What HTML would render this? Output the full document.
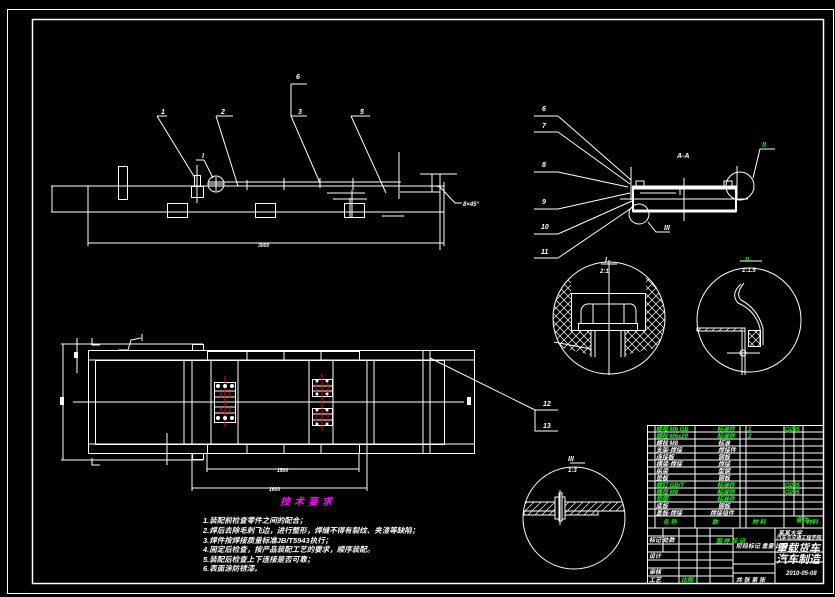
<!DOCTYPE html>
<html><head><meta charset="utf-8"><style>
html,body{margin:0;padding:0;background:#000;}
svg{display:block}
text{font-family:"Liberation Sans","Noto Sans CJK SC",sans-serif;font-weight:bold;font-style:italic}
</style></head><body>
<svg width="835" height="597" viewBox="0 0 835 597" xmlns="http://www.w3.org/2000/svg">
<rect width="835" height="597" fill="#000"/>
<g fill="none" stroke="#fff" stroke-width="1">
<!-- frames -->
<rect x="7.5" y="9.5" width="826" height="584"/>
<rect x="32.5" y="19.5" width="791" height="564" stroke-width="1.5"/>

<!-- FRONT VIEW -->
<line x1="51" y1="186" x2="444" y2="186"/>
<line x1="208" y1="182" x2="401" y2="182"/>
<line x1="51" y1="212" x2="444" y2="212"/>
<line x1="88" y1="186" x2="88" y2="246"/>
<line x1="444" y1="182" x2="444" y2="246"/>
<line x1="88" y1="243" x2="444" y2="243"/>
<line x1="52" y1="186" x2="52" y2="212"/>
<line x1="88" y1="212" x2="100" y2="212"/>
<rect x="118.5" y="166.5" width="9" height="33"/>
<rect x="167.5" y="203.5" width="20" height="14"/>
<rect x="255.5" y="203.5" width="20" height="14"/>
<rect x="344.5" y="203.5" width="20" height="14"/>
<line x1="350" y1="198" x2="350" y2="217"/>
<rect x="191.5" y="186.5" width="12" height="11"/>
<rect x="194.5" y="175.5" width="6" height="11"/>
<line x1="197" y1="165" x2="197" y2="203"/>
<circle cx="216" cy="184" r="8"/>
<line x1="208" y1="184" x2="224" y2="184"/><line x1="216" y1="177" x2="216" y2="191"/>
<line x1="247" y1="180" x2="247" y2="190"/><line x1="284" y1="178" x2="284" y2="190"/><line x1="320" y1="178" x2="320" y2="188"/><line x1="353" y1="178" x2="353" y2="190"/>
<line x1="157" y1="116" x2="167" y2="116"/><line x1="157" y1="116" x2="195" y2="178"/>
<line x1="196" y1="160" x2="204" y2="160"/><line x1="204" y1="160" x2="213" y2="178"/>
<line x1="216" y1="116" x2="233" y2="116"/><line x1="216" y1="116" x2="238" y2="186"/>
<line x1="291" y1="84" x2="307" y2="84"/><line x1="291" y1="84" x2="291" y2="116"/>
<line x1="291" y1="116" x2="307" y2="116"/><line x1="291" y1="116" x2="320" y2="183"/>
<line x1="351" y1="116" x2="370" y2="116"/><line x1="351" y1="116" x2="386" y2="193"/>
<line x1="399" y1="152" x2="399" y2="199"/>
<line x1="327" y1="193" x2="365" y2="193"/><line x1="333" y1="199" x2="367" y2="199"/>
<line x1="352" y1="190" x2="352" y2="217"/>
<line x1="420" y1="174" x2="457" y2="174"/><line x1="432" y1="174" x2="432" y2="192"/>
<line x1="440" y1="174" x2="440" y2="250"/>
<line x1="400" y1="192" x2="440" y2="192"/>
<polyline points="436,186 440,187 455,203 462,203"/>
<line x1="382" y1="216" x2="404" y2="216"/>

<!-- PLAN VIEW -->
<rect x="88.5" y="350.5" width="386" height="103"/>
<line x1="88" y1="360" x2="475" y2="360"/>
<line x1="88" y1="444" x2="475" y2="444"/>
<rect x="95.5" y="360.5" width="349" height="84"/>
<g>
<line x1="184" y1="360" x2="184" y2="444"/><line x1="192" y1="360" x2="192" y2="444"/>
<line x1="211" y1="360" x2="211" y2="444"/><line x1="238" y1="360" x2="238" y2="444"/>
<line x1="309" y1="360" x2="309" y2="444"/><line x1="333" y1="360" x2="333" y2="444"/>
<line x1="367" y1="360" x2="367" y2="444"/><line x1="374" y1="360" x2="374" y2="444"/>
<line x1="423" y1="350" x2="423" y2="453"/><line x1="430" y1="350" x2="430" y2="453"/>
</g>
<rect x="207.5" y="351.5" width="152" height="9"/>
<rect x="207.5" y="444.5" width="152" height="9"/>
<line x1="247" y1="351" x2="247" y2="360"/><line x1="284" y1="351" x2="284" y2="360"/><line x1="321" y1="351" x2="321" y2="360"/>
<line x1="247" y1="445" x2="247" y2="453"/><line x1="284" y1="445" x2="284" y2="453"/><line x1="321" y1="445" x2="321" y2="453"/>
<line x1="73" y1="402" x2="464" y2="402"/>
<line x1="61" y1="344" x2="203" y2="344"/><line x1="61" y1="460" x2="203" y2="460"/>
<line x1="63" y1="344" x2="63" y2="460"/>
<line x1="77" y1="338" x2="77" y2="373"/>
<line x1="167" y1="433" x2="167" y2="465"/>
<polyline points="118,350 128,350 131,340 141,338"/>
<line x1="142" y1="334" x2="142" y2="341"/>
<polyline points="92,338 92,345 100,345"/><polyline points="92,458 92,465 100,465"/>
<rect x="192.5" y="344.5" width="11" height="6"/><rect x="192.5" y="453.5" width="11" height="6"/>
<rect x="214.5" y="382.5" width="21" height="40"/>
<line x1="214" y1="391" x2="236" y2="391"/><line x1="214" y1="397" x2="236" y2="397"/><line x1="214" y1="407" x2="236" y2="407"/><line x1="214" y1="413" x2="236" y2="413"/>
<rect x="312.5" y="379.5" width="20" height="17"/><rect x="312.5" y="408.5" width="20" height="17"/>
<line x1="312" y1="386" x2="332" y2="386"/><line x1="312" y1="391" x2="332" y2="391"/><line x1="312" y1="414" x2="332" y2="414"/><line x1="312" y1="420" x2="332" y2="420"/>
<line x1="207" y1="453" x2="207" y2="472"/><line x1="359" y1="453" x2="359" y2="472"/>
<line x1="207" y1="469" x2="359" y2="469"/>
<line x1="192" y1="453" x2="192" y2="491"/><line x1="367" y1="444" x2="367" y2="491"/>
<line x1="192" y1="488" x2="367" y2="488"/>
<line x1="430" y1="358" x2="535" y2="410"/>
<polyline points="558,410 535,410 535,431 558,431"/>
</g>
<!-- red centerlines -->
<g stroke="#f00" stroke-width="1">
<line x1="225" y1="376" x2="225" y2="427"/><line x1="221" y1="392" x2="221" y2="398"/><line x1="230" y1="392" x2="230" y2="398"/><line x1="221" y1="407" x2="221" y2="413"/><line x1="230" y1="407" x2="230" y2="413"/>
<line x1="322" y1="374" x2="322" y2="431"/><line x1="316" y1="383" x2="316" y2="393"/><line x1="328" y1="383" x2="328" y2="393"/><line x1="316" y1="412" x2="316" y2="422"/><line x1="328" y1="412" x2="328" y2="422"/>
</g>
<g fill="#fff">
<circle cx="218" cy="386" r="2"/><circle cx="225" cy="386" r="2"/><circle cx="232" cy="386" r="2"/>
<circle cx="218" cy="418" r="2"/><circle cx="225" cy="418" r="2"/><circle cx="232" cy="418" r="2"/>
<circle cx="317" cy="381" r="1.5"/><circle cx="327" cy="381" r="1.5"/><circle cx="317" cy="394" r="1.5"/><circle cx="327" cy="394" r="1.5"/>
<circle cx="317" cy="410" r="1.5"/><circle cx="327" cy="410" r="1.5"/><circle cx="317" cy="424" r="1.5"/><circle cx="327" cy="424" r="1.5"/>
<rect x="60" y="397" width="4" height="8"/><rect x="467" y="397" width="4" height="8"/>
<rect x="74" y="352" width="4" height="6"/>
</g>

<!-- SECTION A-A -->
<g fill="none" stroke="#fff">
<line x1="534" y1="116" x2="558" y2="116"/><line x1="558" y1="116" x2="631" y2="180"/>
<line x1="534" y1="132" x2="558" y2="132"/><line x1="558" y1="132" x2="630" y2="184"/>
<line x1="534" y1="172" x2="558" y2="172"/><line x1="558" y1="172" x2="628" y2="187"/>
<line x1="534" y1="209" x2="558" y2="209"/><line x1="558" y1="209" x2="630" y2="193"/>
<line x1="534" y1="234" x2="558" y2="234"/><line x1="558" y1="234" x2="632" y2="201"/>
<line x1="534" y1="258" x2="558" y2="258"/><line x1="558" y1="258" x2="633" y2="207"/>
<rect x="633" y="186" width="103" height="3" fill="#fff"/>
<rect x="633" y="210" width="103" height="2" fill="#fff"/>
<line x1="633" y1="186" x2="633" y2="212" stroke-width="2"/>
<line x1="736" y1="186" x2="736" y2="212" stroke-width="2"/>
<line x1="631" y1="167" x2="631" y2="200"/><line x1="737" y1="166" x2="737" y2="198"/>
<line x1="684" y1="178" x2="684" y2="221"/>
<line x1="620" y1="199" x2="748" y2="199"/>
<line x1="640" y1="193" x2="676" y2="193"/>
<circle cx="740" cy="186" r="14"/>
<circle cx="639" cy="214" r="10"/>
<polyline points="753,178 760,149 775,149"/>
<polyline points="648,222 656,232 670,232"/>
<line x1="680" y1="189" x2="680" y2="195"/>
<rect x="636" y="181" width="8" height="5"/><rect x="724" y="181" width="8" height="5"/>
</g>

<!-- Detail I -->
<defs>
<pattern id="xh" width="8" height="8" patternUnits="userSpaceOnUse"><path d="M0 0L8 8M8 0L0 8" stroke="#fff" stroke-width="0.7"/></pattern>
<pattern id="dh" width="7" height="7" patternUnits="userSpaceOnUse"><path d="M0 7L7 0" stroke="#fff" stroke-width="0.7"/></pattern>
<clipPath id="c1"><circle cx="609" cy="318" r="56"/></clipPath>
<clipPath id="c3"><circle cx="574" cy="518" r="51"/></clipPath>
</defs>
<g clip-path="url(#c1)">
<path d="M550 275 L571 275 L571 330 L591 330 L591 355 L550 345 Z" fill="url(#xh)"/>
<path d="M646 275 L668 275 L668 345 L625 355 L625 330 L646 330 Z" fill="url(#xh)"/>
</g>
<g fill="none" stroke="#fff">
<circle cx="609" cy="318" r="56"/>
<line x1="609" y1="260" x2="609" y2="375"/>
<rect x="571.5" y="293.5" width="74" height="37"/>
<path d="M581 323 L581 310 Q583 303 591 304 L628 304 Q635 303 636 310 L636 323"/>
<line x1="593" y1="304" x2="593" y2="323"/><line x1="624" y1="304" x2="624" y2="323"/>
<rect x="578.5" y="323.5" width="59" height="7"/>
<line x1="591" y1="330" x2="591" y2="357"/><line x1="595" y1="330" x2="595" y2="357"/>
<line x1="621" y1="330" x2="621" y2="357"/><line x1="625" y1="330" x2="625" y2="357"/>
<line x1="554" y1="342" x2="591" y2="349"/>
<line x1="601" y1="264" x2="617" y2="264"/>
<!-- Detail II -->
<circle cx="749" cy="320" r="52"/>
<line x1="740" y1="261" x2="762" y2="261"/>
<path d="M741 284 Q730 294 738 303 Q755 310 760 328 L760 345" />
<path d="M744 283 Q735 294 741 300 Q757 308 763 328 L763 345"/>
<rect x="697" y="328" width="48" height="3" fill="url(#dh)"/>
<line x1="697" y1="328" x2="745" y2="328"/><line x1="697" y1="331" x2="742" y2="331"/>
<line x1="745" y1="328" x2="745" y2="375"/><line x1="742" y1="331" x2="742" y2="375"/>
<rect x="748.5" y="330.5" width="12" height="16" fill="url(#xh)"/>
<line x1="727" y1="353" x2="760" y2="353"/>
<circle cx="743" cy="353" r="3"/>
<!-- Detail III -->
<circle cx="574" cy="518" r="51"/>
<line x1="570" y1="463" x2="585" y2="463"/>
</g>
<g clip-path="url(#c3)">
<rect x="520" y="502" width="110" height="9" fill="url(#dh)" stroke="#fff"/>
<rect x="524" y="511" width="74" height="4" fill="url(#dh)" stroke="#fff"/>
</g>
<g fill="#000" stroke="#fff">
<rect x="555" y="497" width="10" height="22"/>
<rect x="559" y="493" width="3" height="28"/>
</g>
<line x1="560" y1="490" x2="560" y2="525" stroke="#fff"/>

<!-- TITLE BLOCK -->
<g stroke="#fff" fill="none" stroke-width="1">
<rect x="647.5" y="425.5" width="176" height="158"/>
<g>
<line x1="647" y1="432" x2="824" y2="432"/><line x1="647" y1="439" x2="824" y2="439"/><line x1="647" y1="446" x2="824" y2="446"/><line x1="647" y1="453" x2="824" y2="453"/><line x1="647" y1="460" x2="824" y2="460"/><line x1="647" y1="467" x2="824" y2="467"/><line x1="647" y1="474" x2="824" y2="474"/><line x1="647" y1="481" x2="824" y2="481"/><line x1="647" y1="488" x2="824" y2="488"/><line x1="647" y1="495" x2="824" y2="495"/><line x1="647" y1="502" x2="824" y2="502"/><line x1="647" y1="509" x2="824" y2="509"/><line x1="647" y1="516" x2="824" y2="516"/><line x1="647" y1="528" x2="824" y2="528"/>
</g>
<line x1="655" y1="425" x2="655" y2="528"/><line x1="695" y1="425" x2="695" y2="528"/><line x1="740" y1="425" x2="740" y2="528"/><line x1="746" y1="425" x2="746" y2="528"/><line x1="784" y1="425" x2="784" y2="528"/><line x1="794" y1="425" x2="794" y2="516"/><line x1="803" y1="425" x2="803" y2="528"/>
<line x1="647" y1="536" x2="733" y2="536"/><line x1="647" y1="544" x2="733" y2="544"/><line x1="647" y1="552" x2="824" y2="552"/><line x1="647" y1="560" x2="733" y2="560"/><line x1="647" y1="568" x2="733" y2="568"/><line x1="647" y1="576" x2="733" y2="576"/>
<line x1="733" y1="528" x2="733" y2="583"/>
<line x1="663" y1="528" x2="663" y2="552"/><line x1="679" y1="528" x2="679" y2="583"/><line x1="697" y1="528" x2="697" y2="583"/><line x1="710" y1="528" x2="710" y2="583"/>
<line x1="775" y1="528" x2="775" y2="583"/>
<line x1="733" y1="564" x2="775" y2="564"/><line x1="733" y1="573" x2="775" y2="573"/>
<line x1="775" y1="540" x2="824" y2="540"/><line x1="775" y1="562" x2="824" y2="562"/>
</g>
<g font-size="6" fill="#0f0">
<text x="656" y="431">螺母 M6 GB</text><text x="717" y="431">标准件</text><text x="748" y="431">1</text><text x="785" y="431">Q235</text>
<text x="656" y="438">螺栓 M6x20</text><text x="717" y="438">标准件</text><text x="748" y="438">2</text>
<text x="656" y="487">螺钉 GB/T</text><text x="717" y="487">标准件</text><text x="785" y="487">Q235</text>
<text x="656" y="494">螺母 M8</text><text x="717" y="494">标准件</text><text x="785" y="494">Q235</text>
<text x="656" y="501">垫圈</text><text x="717" y="501">标准件</text>
<text x="796" y="522">备注</text><text x="806" y="524">材料</text>
<text x="663" y="524">名 称</text><text x="712" y="524">数</text><text x="752" y="524">材 料</text>
<text x="716" y="543">图 样 标 记</text><text x="681" y="582">比例</text>
</g>
<g font-size="6" fill="#fff">
<text x="656" y="445">螺栓 M8</text><text x="718" y="445">标准</text>
<text x="656" y="452">支架-焊接</text><text x="718" y="452">焊接件</text>
<text x="656" y="459">连接板</text><text x="718" y="459">钢板</text>
<text x="656" y="466">横梁-焊接</text><text x="718" y="466">焊接</text>
<text x="656" y="473">纵梁</text><text x="718" y="473">型钢</text>
<text x="656" y="480">垫板</text><text x="718" y="480">钢板</text>
<text x="656" y="508">底板</text><text x="718" y="508">钢板</text>
<text x="656" y="515">盖板-焊接</text><text x="710" y="515">焊接组件</text>
<text x="649" y="542">标记 处数</text><text x="649" y="558">设计</text><text x="649" y="574">审核</text><text x="649" y="582">工艺</text>
<text x="736" y="548">阶段标记 重量 比例</text>
<text x="778" y="535">某某大学</text><text x="776" y="539" font-size="5">汽车与交通工程学院</text>
<text x="736" y="582">共 张 第 张</text>
<text x="786" y="575">2010-05-08</text>
</g>
<text x="776" y="552" font-size="11" fill="#fff">重载货车</text>
<text x="776" y="563" font-size="11" fill="#fff">汽车制造</text>

<!-- labels -->
<g fill="#fff" font-size="7">
<text x="161" y="114">1</text><text x="221" y="114">2</text><text x="298" y="114">3</text><text x="296" y="79">6</text><text x="360" y="114">5</text><text x="202" y="158">I</text>
<text x="258" y="247" font-size="5">3000</text>
<text x="463" y="206" font-size="6">8×45°</text>
<text x="542" y="111">6</text><text x="542" y="128">7</text><text x="542" y="167">8</text><text x="542" y="204">9</text><text x="541" y="229">10</text><text x="541" y="254">11</text>
<text x="677" y="158">A-A</text>
<text x="664" y="230">III</text>
<text x="605" y="262">I</text><text x="600" y="273" font-size="6">2:1</text>
<text x="742" y="272" font-size="6">1:1.5</text>
<text x="568" y="461">III</text><text x="568" y="472" font-size="6">1:3</text>
<text x="543" y="406">12</text><text x="543" y="428">13</text>
<text x="277" y="472" font-size="5">1500</text><text x="269" y="491" font-size="5">1600</text>
</g>
<g fill="#0f0" font-size="7"><text x="762" y="147">II</text><text x="745" y="262">II</text></g>

<!-- tech requirements -->
<text x="280" y="505" font-size="10" fill="#f0f" letter-spacing="4">技术要求</text>
<g fill="#fff" font-size="7.5" font-style="italic">
<text x="203" y="523">1.装配前检查零件之间的配合；</text>
<text x="203" y="533">2.焊后去除毛刺飞边，进行整形，焊缝不得有裂纹、夹渣等缺陷；</text>
<text x="203" y="543">3.焊件按焊接质量标准JB/T5943执行；</text>
<text x="203" y="552">4.固定后检查，按产品装配工艺的要求，顺序装配。</text>
<text x="203" y="562">5.装配后检查上下连接是否可靠；</text>
<text x="203" y="571">6.表面涂防锈漆。</text>
</g>
</svg>
</body></html>
